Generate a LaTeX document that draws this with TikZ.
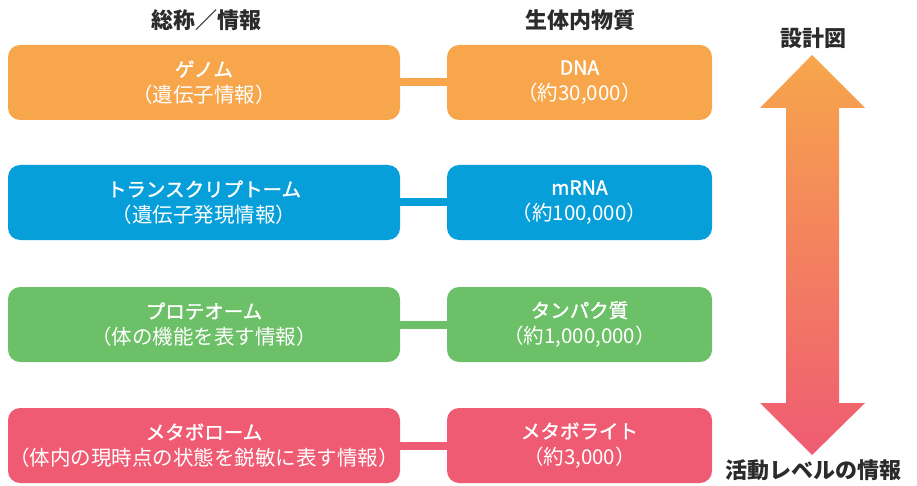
\documentclass[tikz,border=0pt]{standalone}
\usepackage{fontspec}
\setmainfont{Noto Sans CJK JP}
\newfontfamily\jp{Noto Sans CJK JP}
\newfontfamily\jpm[FakeBold=1.5]{Noto Sans CJK JP}
\definecolor{cOr}{HTML}{F7A64B}
\definecolor{cBl}{HTML}{079FDA}
\definecolor{cGr}{HTML}{6CC067}
\definecolor{cPk}{HTML}{EF5B73}
\definecolor{cTx}{HTML}{2B2B2B}
\newcommand{\tl}[2]{{\jpm\fontsize{19.5}{26}\selectfont #1}\\{\jp\fontsize{20.5}{26}\selectfont #2}}
\begin{document}
\begin{tikzpicture}[x=1pt,y=-1pt,
  box/.style={rounded corners=12pt, minimum height=75pt, inner sep=0pt, text=white, align=center, font=\fontsize{20}{26}\selectfont},
  lbox/.style={box, minimum width=392pt},
  rbox/.style={box, minimum width=265pt},
  link/.style={line width=8pt},
  head/.style={text=cTx, font=\jp\bfseries\fontsize{22}{24}\selectfont, inner sep=0pt}]
\useasboundingbox (0,0) rectangle (917,486);
\node[head] (h1) at (206,20) {総称／情報};
\node[head] (h2) at (580,20) {生体内物質};
\node[head] (h3) at (813,38) {設計図};
\node[head] (h4) at (813,470) {活動レベルの情報};

\node[lbox, fill=cOr] (l1) at (204,82.5) {\tl{ゲノム}{（遺伝子情報）}};
\node[rbox, fill=cOr] (r1) at (579.5,82.5) {\tl{DNA}{（約30,000）}};
\node[lbox, fill=cBl] (l2) at (204,202.5) {\tl{トランスクリプトーム}{（遺伝子発現情報）}};
\node[rbox, fill=cBl] (r2) at (579.5,202.5) {\tl{mRNA}{（約100,000）}};
\node[lbox, fill=cGr] (l3) at (204,324.5) {\tl{プロテオーム}{（体の機能を表す情報）}};
\node[rbox, fill=cGr] (r3) at (579.5,324.5) {\tl{タンパク質}{（約1,000,000）}};
\node[lbox, fill=cPk] (l4) at (204,445.5) {\tl{メタボローム}{（体内の現時点の状態を鋭敏に表す情報）}};
\node[rbox, fill=cPk] (r4) at (579.5,445.5) {\tl{メタボライト}{（約3,000）}};

\draw[link, cOr] (l1.east) -- (r1.west);
\draw[link, cBl] (l2.east) -- (r2.west);
\draw[link, cGr] (l3.east) -- (r3.west);
\draw[link, cPk] (l4.east) -- (r4.west);

\shade[top color=cOr, bottom color=cPk]
  (812,55) -- (865,108) -- (839,108) -- (839,403) -- (865,403) -- (812,455)
  -- (760,403) -- (786,403) -- (786,108) -- (760,108) -- cycle;
\end{tikzpicture}
\end{document}
